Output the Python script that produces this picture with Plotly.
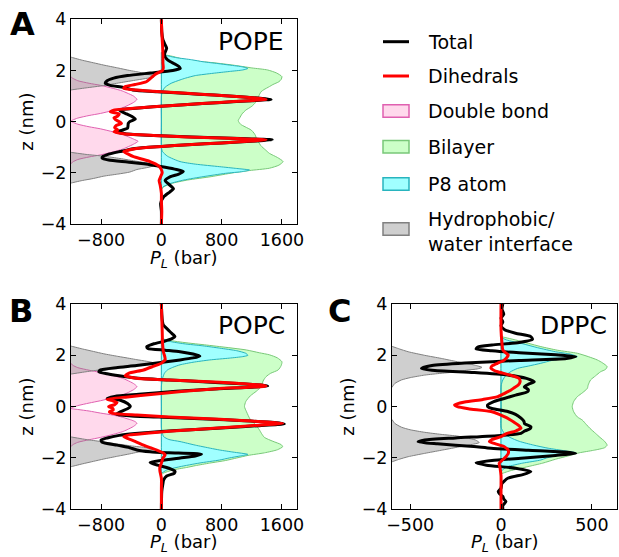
import plotly.graph_objects as go

W, H = 619, 557

# ---------------- Panel A (POPE) ----------------
A_tot_z = [4.0, 3.5, 3.2, 3.0, 2.87, 2.75, 2.61, 2.45, 2.35, 2.25, 2.16, 2.08, 2.0, 1.9, 1.8, 1.7, 1.6, 1.5,
           1.42, 1.34, 1.24, 1.17, 1.11, 1.04, 0.98, 0.92, 0.87, 0.82, 0.75, 0.66, 0.58, 0.5, 0.46, 0.38,
           0.3, 0.2, 0.1, 0.0, -0.07, -0.15, -0.26, -0.33, -0.4, -0.47, -0.54, -0.6, -0.66, -0.71, -0.76,
           -0.83, -0.9, -0.97, -1.05, -1.17, -1.27, -1.37, -1.43, -1.5, -1.58, -1.68, -1.78, -1.87, -1.95,
           -2.05, -2.15, -2.3, -2.45, -2.62, -2.75, -2.94, -3.2, -3.5, -4.0]
A_tot_p = [0, 5, 20, 50, 70, 55, 40, 70, 115, 180, 230, 250, 150, -150, -450, -633, -720, -745,
           -680, -505, -380, -50, 300, 700, 1000, 1280, 1456, 1200, 800, 300, -110, -420, -560, -520,
           -460, -390, -347, -420, -440, -443, -450, -520, -600, -480, -100, 400, 1050, 1470, 1250,
           800, 350, 0, -350, -550, -700, -780, -786, -700, -450, -150, 50, 200, 290,
           230, 120, 50, 100, 160, 110, 30, -10, 0, 0]

A_dih_z = [4.0, 3.5, 3.0, 2.6, 2.3, 2.1, 2.0, 1.93, 1.85, 1.7, 1.56, 1.45, 1.37, 1.3, 1.24, 1.17, 1.11,
           1.04, 0.98, 0.92, 0.87, 0.82, 0.75, 0.66, 0.58, 0.5, 0.45, 0.38, 0.3, 0.22, 0.15, 0.08, 0.0,
           -0.07, -0.15, -0.24, -0.32, -0.4, -0.47, -0.54, -0.6, -0.66, -0.71, -0.76, -0.83, -0.9,
           -0.97, -1.05, -1.17, -1.27, -1.37, -1.47, -1.56, -1.65, -1.75, -1.88, -2.0, -2.15, -2.3,
           -2.5, -2.8, -3.1, -3.5, -4.0]
A_dih_p = [0, 5, 15, 20, 20, 25, 15, -30, -80, -140, -200, -350, -480, -500, -330, 0, 335,
           700, 995, 1250, 1390, 1150, 774, 300, -110, -450, -633, -677, -560, -580, -630, -610, -560,
           -530, -600, -620, -580, -630, -500, -100, 350, 1000, 1390, 1200, 800, 350,
           0, -330, -500, -440, -370, -250, -150, -80, -30, 0, 10, -10, -30,
           -15, 0, 0, 5, 0]

A_pink_z = [1.75, 1.7, 1.6, 1.5, 1.42, 1.3, 1.2, 1.12, 1.0, 0.87, 0.75, 0.62, 0.54, 0.44, 0.32, 0.24,
            0.14, 0.06, 0.02, -0.02, -0.1, -0.2, -0.28, -0.4, -0.5, -0.57, -0.68, -0.77, -0.88, -1.0,
            -1.08, -1.18, -1.3, -1.38, -1.48, -1.58, -1.65]
A_pink_p = [-1200, -1180, -1110, -960, -810, -640, -520, -456, -370, -325, -370, -456, -520, -640, -810, -960,
            -1110, -1180, -1200, -1180, -1110, -960, -810, -640, -520, -456, -370, -310, -370, -456,
            -520, -640, -810, -960, -1110, -1180, -1200]

A_grey_up_z = [2.52, 2.4, 2.3, 2.21, 2.1, 2.0, 1.95, 1.87, 1.79, 1.75, 1.7, 1.63, 1.52, 1.41, 1.32, 1.24]
A_grey_up_p = [-1200, -1050, -900, -765, -580, -420, -325, -200, -110, -100, -180, -325, -550, -765, -1000, -1200]
A_grey_lo_z = [-1.2, -1.28, -1.35, -1.44, -1.55, -1.62, -1.68, -1.73, -1.8, -1.87, -1.97, -2.05, -2.13, -2.22, -2.3, -2.4]
A_grey_lo_p = [-1200, -1000, -765, -550, -325, -180, -100, -110, -200, -325, -420, -580, -765, -900, -1050, -1200]

A_green_z = [2.7, 2.64, 2.55, 2.41, 2.3, 2.21, 2.1, 2.02, 1.9, 1.76, 1.65, 1.56, 1.45, 1.37, 1.25, 1.17,
             1.05, 0.9, 0.75, 0.6, 0.45, 0.3, 0.15, 0.04, -0.1, -0.2, -0.33, -0.45, -0.55, -0.65, -0.8,
             -0.94, -1.1, -1.24, -1.4, -1.56, -1.7, -1.82, -1.91, -2.0, -2.15, -2.28, -2.42, -2.55, -2.65]
A_green_p = [0, 20, 150, 335, 700, 950, 1200, 1410, 1530, 1600, 1590, 1560, 1480, 1434, 1360, 1324,
             1300, 1280, 1250, 1200, 1120, 1070, 1040, 1020, 1050, 1110, 1193, 1230, 1250, 1260, 1290,
             1320, 1380, 1434, 1540, 1615, 1560, 1434, 1170, 950, 660, 350, 130, 30, 0]

A_p8_z = [2.7, 2.6, 2.5, 2.42, 2.34, 2.27, 2.21, 2.14, 2.08, 2.02, 1.96, 1.89, 1.8, 1.7, 1.63, 1.5,
          1.35, 1.2, 1.0, 0.0, -1.0, -1.17, -1.35, -1.56, -1.66, -1.76, -1.83, -1.89, -1.95, -2.02,
          -2.15, -2.28, -2.42, -2.55, -2.65]
A_p8_p = [0, 50, 200, 400, 554, 750, 906, 1080, 1148, 1080, 900, 686, 450, 320, 247, 130,
          50, 15, 0, 0, 0, 15, 80, 247, 450, 774, 1000, 1170, 1080, 850,
          554, 300, 115, 20, 0]

# ---------------- Panel B (POPC) ----------------
B_tot_z = [4.0, 3.6, 3.3, 3.18, 3.05, 2.92, 2.8, 2.73, 2.65, 2.55, 2.45, 2.34, 2.27, 2.2, 2.14, 2.05, 1.97,
           1.9, 1.82, 1.7, 1.6, 1.52, 1.43, 1.36, 1.28, 1.2, 1.12, 1.04, 0.97, 0.9, 0.84, 0.8, 0.76, 0.7,
           0.6, 0.48, 0.4, 0.32, 0.25, 0.12, 0.0, -0.08, -0.2, -0.3, -0.36, -0.42, -0.48, -0.55, -0.62,
           -0.67, -0.74, -0.82, -0.9, -0.97, -1.05, -1.12, -1.22, -1.3, -1.38, -1.5, -1.6, -1.69, -1.76,
           -1.8, -1.85, -1.92, -2.0, -2.1, -2.18, -2.28, -2.4, -2.52, -2.6, -2.7, -2.85, -3.0, -3.3, -4.0]
B_tot_p = [0, 5, 15, 26, 70, 115, 160, 180, 140, 40, -100, -193, -180, 50, 247, 420, 510,
           420, 247, -60, -330, -600, -808, -830, -720, -560, -350, 100, 550, 1000, 1320, 1411, 1200, 760,
           200, -300, -620, -720, -545, -450, -413, -450, -545, -600, -400, 100, 600, 1100, 1500,
           1632, 1300, 850, 400, 0, -350, -560, -720, -800, -790, -589, -420, -325, -150,
           100, 532, 450, 250, 0, -150, -50, 100, 180, 170, 70, 30, 20, 5, 0]

B_dih_z = [4.0, 3.0, 2.5, 2.14, 1.95, 1.82, 1.75, 1.69, 1.58, 1.43, 1.3, 1.2, 1.11, 1.04, 0.98, 0.91, 0.85,
           0.8, 0.75, 0.7, 0.6, 0.48, 0.38, 0.29, 0.22, 0.16, 0.08, 0.0, -0.06, -0.13, -0.2, -0.26, -0.33,
           -0.4, -0.46, -0.53, -0.6, -0.65, -0.72, -0.8, -0.88, -0.96, -1.04, -1.1, -1.17, -1.25, -1.35,
           -1.5, -1.6, -1.69, -1.8, -1.88, -2.0, -2.2, -2.35, -2.5, -2.8, -3.2, -4.0]
B_dih_p = [0, 10, 15, 26, 45, 50, 20, 0, -100, -237, -435, -480, -330, 100, 554, 1000, 1300,
           1390, 1100, 738, 300, -105, -450, -720, -640, -589, -620, -700, -650, -640, -690, -650, -325,
           100, 554, 1000, 1400, 1610, 1300, 900, 500, 100, -200, -420, -500, -440, -350,
           -237, -150, -60, 20, 50, 20, 0, -20, -20, 0, 0, 0]

B_pink_z = [1.69, 1.62, 1.52, 1.42, 1.33, 1.21, 1.11, 1.03, 0.9, 0.78, 0.66, 0.53, 0.45, 0.35, 0.23, 0.14,
            0.04, -0.03, -0.07, -0.11, -0.17, -0.25, -0.33, -0.41, -0.47, -0.52, -0.58, -0.65, -0.77, -0.9,
            -0.98, -1.08, -1.2, -1.29, -1.39, -1.49, -1.56]
B_pink_p = [-1200, -1180, -1110, -960, -810, -640, -520, -456, -370, -325, -370, -456, -520, -640, -810, -960,
            -1110, -1180, -1200, -1110, -960, -810, -640, -520, -456, -400, -350, -325, -370, -456,
            -520, -640, -810, -960, -1110, -1180, -1200]

B_grey_up_z = [2.36, 2.25, 2.15, 2.06, 1.96, 1.88, 1.83, 1.77, 1.72, 1.67, 1.61, 1.52, 1.44, 1.36, 1.27]
B_grey_up_p = [-1200, -1050, -900, -765, -580, -420, -325, -200, -120, -200, -400, -620, -800, -1000, -1200]
B_grey_lo_z = [-1.18, -1.28, -1.36, -1.44, -1.53, -1.6, -1.66, -1.72, -1.78, -1.84, -1.93, -2.04, -2.13, -2.23, -2.34]
B_grey_lo_p = [-1200, -1000, -800, -620, -400, -200, -120, -200, -325, -420, -580, -765, -900, -1050, -1200]

B_green_z = [2.66, 2.6, 2.5, 2.4, 2.34, 2.21, 2.1, 2.02, 1.9, 1.75, 1.6, 1.43, 1.3, 1.17, 1.0, 0.8, 0.6,
             0.42, 0.2, 0.0, -0.2, -0.5, -0.7, -0.9, -1.05, -1.2, -1.35, -1.48, -1.56, -1.68, -1.8, -1.9,
             -2.0, -2.1, -2.2, -2.3, -2.37, -2.47, -2.6, -2.66]
B_green_p = [0, 70, 300, 600, 774, 1126, 1300, 1434, 1540, 1600, 1590, 1550, 1450, 1390, 1350, 1330, 1260,
             1180, 1120, 1103, 1130, 1180, 1250, 1300, 1330, 1368, 1480, 1590, 1610, 1540, 1368, 1150,
             1000, 850, 640, 450, 335, 150, 20, 0]

B_p8_z = [2.65, 2.54, 2.45, 2.37, 2.28, 2.18, 2.08, 2.0, 1.95, 1.89, 1.82, 1.73, 1.63, 1.53, 1.43, 1.3,
          1.1, 0.8, 0.0, -0.8, -1.0, -1.17, -1.28, -1.36, -1.5, -1.62, -1.69, -1.77, -1.86, -1.92, -2.0,
          -2.08, -2.2, -2.34, -2.47, -2.6]
B_p8_p = [0, 115, 300, 550, 774, 1000, 1120, 1148, 1080, 900, 642, 420, 247, 150, 80, 40,
          15, 0, 0, 0, 10, 30, 100, 247, 450, 650, 774, 950, 1148, 1050, 900,
          774, 500, 247, 70, 0]

# ---------------- Panel C (DPPC) ----------------
C_tot_z = [4.0, 3.8, 3.6, 3.45, 3.3, 3.15, 3.0, 2.86, 2.73, 2.62, 2.5, 2.4, 2.32, 2.25, 2.18, 2.1, 2.02,
           1.95, 1.88, 1.8, 1.7, 1.6, 1.49, 1.42, 1.33, 1.23, 1.1, 0.97, 0.87, 0.77, 0.67, 0.58, 0.45,
           0.32, 0.2, 0.07, 0.0, -0.07, -0.19, -0.3, -0.45, -0.57, -0.67, -0.78, -0.86, -0.95, -1.04,
           -1.12, -1.22, -1.3, -1.37, -1.45, -1.55, -1.62, -1.7, -1.77, -1.82, -1.9, -2.0, -2.1, -2.19,
           -2.28, -2.4, -2.53, -2.65, -2.79, -3.0, -3.18, -3.3, -3.38, -3.5, -3.6, -3.7, -3.85, -4.0]
C_tot_p = [10, 5, 15, 0, 10, 0, 20, 80, 164, 173, 100, -50, -128, -137, -50, 100, 300,
           411, 360, 100, -200, -380, -438, -380, -150, 37, 140, 183, 150, 128, 150, 146, 80,
           18, -40, -73, -73, -50, 37, 80, 110, 126, 130, 164, 160, 130, 110,
           0, -250, -420, -456, -350, -150, -55, 150, 350, 411, 300, 128, -50, -137,
           -80, 80, 164, 120, 37, 5, 0, -15, -10, 10, 15, 27, 10, 10]

C_dih_z = [4.0, 3.0, 2.5, 2.21, 2.1, 2.01, 1.9, 1.78, 1.69, 1.58, 1.49, 1.42, 1.36, 1.25, 1.1, 0.97, 0.84,
           0.75, 0.65, 0.52, 0.39, 0.28, 0.18, 0.07, 0.0, -0.08, -0.19, -0.3, -0.43, -0.6, -0.72, -0.84,
           -0.95, -1.05, -1.17, -1.28, -1.36, -1.45, -1.56, -1.7, -1.82, -1.95, -2.1, -2.21, -2.4, -2.7,
           -3.2, -4.0]
C_dih_p = [0, 0, 5, 10, 25, 40, 30, 10, -20, -50, -55, -40, -18, 40, 100, 105, 95,
           75, 55, 20, -18, -100, -200, -256, -240, -180, -55, -10, 30, 70, 95, 110,
           80, 30, 0, -50, -64, -30, 18, 40, 40, 27, 5, -10, -5, 0,
           0, 0]

C_grey_up_z = [2.35, 2.25, 2.14, 2.0, 1.88, 1.75, 1.62, 1.53, 1.47, 1.42, 1.36, 1.3, 1.23, 1.13, 1.04, 0.9, 0.75]
C_grey_up_p = [-600, -560, -511, -420, -329, -240, -146, -105, -130, -190, -237, -330, -420, -500, -548, -585, -600]
C_grey_lo_z = [-0.5, -0.65, -0.8, -0.9, -1.0, -1.08, -1.15, -1.22, -1.3, -1.4, -1.46, -1.58, -1.7, -1.82, -1.95, -2.05, -2.15]
C_grey_lo_p = [-600, -585, -548, -500, -420, -330, -237, -190, -140, -120, -150, -240, -329, -420, -511, -560, -600]

C_green_z = [2.73, 2.6, 2.47, 2.34, 2.2, 2.08, 1.95, 1.82, 1.7, 1.56, 1.45, 1.36, 1.2, 1.04, 0.85, 0.71,
             0.55, 0.39, 0.2, 0.0, -0.2, -0.4, -0.52, -0.7, -0.85, -1.04, -1.2, -1.35, -1.5, -1.6, -1.7,
             -1.8, -1.9, -2.05, -2.2, -2.35, -2.5, -2.62]
C_green_p = [0, 80, 150, 219, 310, 420, 480, 530, 560, 584, 575, 548, 520, 493, 480, 475,
             450, 420, 400, 392, 400, 420, 447, 470, 490, 520, 545, 570, 584, 570, 510,
             430, 380, 300, 230, 140, 50, 0]

C_p8_z = [2.7, 2.6, 2.45, 2.3, 2.14, 2.05, 1.95, 1.88, 1.8, 1.69, 1.58, 1.49, 1.35, 1.2, 1.04, 0.8, 0.0,
          -0.8, -1.04, -1.2, -1.35, -1.5, -1.62, -1.72, -1.8, -1.88, -2.0, -2.08, -2.2, -2.34, -2.45, -2.55]
C_p8_p = [0, 30, 120, 200, 300, 380, 420, 350, 280, 219, 150, 91, 50, 25, 10, 0, 0,
          0, 18, 50, 100, 180, 260, 350, 411, 330, 250, 219, 120, 37, 10, 0]

X_RANGE_AB = [-1200, 1800]
X_RANGE_C = [-600, 640]
X_TICKS_AB = [-800, 0, 800, 1600]
X_TICKS_C = [-500, 0, 500]
Y_TICKS = [-4, -2, 0, 2, 4]

LEGEND_LABELS = ["Total", "Dihedrals", "Double bond", "Bilayer", "P8 atom", "Hydrophobic/<br>water interface"]
X_TITLE = "<i>P</i><sub><i>L</i></sub> (bar)"
Y_TITLE = "z (nm)"

# ---------------- styles ----------------
BLACK = "black"
RED = "rgb(255,0,0)"
PINK_F, PINK_L = "rgba(255,105,180,0.25)", "rgb(224,96,176)"
GREEN_F, GREEN_L = "rgb(204,255,200)", "rgb(120,200,120)"
CYAN_F, CYAN_L = "rgb(160,255,255)", "rgb(40,180,190)"
GREY_F, GREY_L = "rgba(128,128,128,0.38)", "rgb(128,128,128)"


def right_poly(z, p, base=0):
    return [base] + list(p) + [base, base], [z[0]] + list(z) + [z[-1], z[0]]


def left_polys(parts, base):
    xs, ys = [], []
    for z, p in parts:
        if xs:
            xs.append(None)
            ys.append(None)
        xs += [base] + list(p) + [base]
        ys += [z[0]] + list(z) + [z[-1]]
    return xs, ys


fig = go.Figure()
panels = [
    ("x", "y", X_RANGE_AB[0], A_tot_z, A_tot_p, A_dih_z, A_dih_p, (A_pink_z, A_pink_p),
     [(A_grey_up_z, A_grey_up_p), (A_grey_lo_z, A_grey_lo_p)], (A_green_z, A_green_p), (A_p8_z, A_p8_p)),
    ("x2", "y2", X_RANGE_AB[0], B_tot_z, B_tot_p, B_dih_z, B_dih_p, (B_pink_z, B_pink_p),
     [(B_grey_up_z, B_grey_up_p), (B_grey_lo_z, B_grey_lo_p)], (B_green_z, B_green_p), (B_p8_z, B_p8_p)),
    ("x3", "y3", X_RANGE_C[0], C_tot_z, C_tot_p, C_dih_z, C_dih_p, None,
     [(C_grey_up_z, C_grey_up_p), (C_grey_lo_z, C_grey_lo_p)], (C_green_z, C_green_p), (C_p8_z, C_p8_p)),
]

SM = 0.6
for i, (xa, ya, base, tz, tp, dz, dp, pink, greys, green, p8) in enumerate(panels):
    if pink is not None:
        xs, ys = left_polys([pink], base)
        fig.add_trace(go.Scatter(x=xs, y=ys, xaxis=xa, yaxis=ya, mode="lines", fill="toself",
                                 fillcolor=PINK_F, line=dict(color=PINK_L, width=1, shape="spline", smoothing=SM),
                                 name="Double bond", showlegend=False, hoverinfo="skip"))
    xs, ys = left_polys(greys, base)
    fig.add_trace(go.Scatter(x=xs, y=ys, xaxis=xa, yaxis=ya, mode="lines", fill="toself",
                             fillcolor=GREY_F, line=dict(color=GREY_L, width=1, shape="spline", smoothing=SM),
                             name="Hydrophobic/water interface", showlegend=False, hoverinfo="skip"))
    xs, ys = right_poly(*green)
    fig.add_trace(go.Scatter(x=xs, y=ys, xaxis=xa, yaxis=ya, mode="lines", fill="toself",
                             fillcolor=GREEN_F, line=dict(color=GREEN_L, width=1, shape="spline", smoothing=SM),
                             name="Bilayer", showlegend=False, hoverinfo="skip"))
    xs, ys = right_poly(*p8)
    fig.add_trace(go.Scatter(x=xs, y=ys, xaxis=xa, yaxis=ya, mode="lines", fill="toself",
                             fillcolor=CYAN_F, line=dict(color=CYAN_L, width=1, shape="spline", smoothing=SM),
                             name="P8 atom", showlegend=False, hoverinfo="skip"))
    fig.add_trace(go.Scatter(x=tp, y=tz, xaxis=xa, yaxis=ya, mode="lines",
                             line=dict(color=BLACK, width=3, shape="spline", smoothing=SM),
                             name="Total", showlegend=False))
    fig.add_trace(go.Scatter(x=dp, y=dz, xaxis=xa, yaxis=ya, mode="lines",
                             line=dict(color=RED, width=3, shape="spline", smoothing=SM),
                             name="Dihedrals", showlegend=False))


def px_x(p):
    return p / W


def px_y(p):
    return 1 - p / H


FONT = "DejaVu Sans"
axis_common = dict(showgrid=False, zeroline=False, showline=True, linecolor="black", linewidth=1,
                   mirror="ticks", ticks="inside", ticklen=5, tickcolor="black", tickwidth=1,
                   automargin=False, tickfont=dict(family=FONT, size=17.5, color="black"))

PANEL_BOXES = {  # pixel boxes: (left, right, top, bottom)
    "A": (71, 297, 19.3, 224),
    "B": (71, 297, 304, 509.3),
    "C": (392, 617.3, 304, 509.3),
}
A_, B_, C_ = PANEL_BOXES["A"], PANEL_BOXES["B"], PANEL_BOXES["C"]

layout = dict(
    width=W, height=H, margin=dict(l=0, r=0, t=0, b=0, autoexpand=False),
    paper_bgcolor="white", plot_bgcolor="white",
    font=dict(family=FONT, color="black"),
    xaxis=dict(domain=[px_x(A_[0]), px_x(A_[1])], range=X_RANGE_AB, tickvals=X_TICKS_AB, anchor="y", **axis_common),
    yaxis=dict(domain=[px_y(A_[3]), px_y(A_[2])], range=[-4, 4], tickvals=Y_TICKS, anchor="x", **axis_common),
    xaxis2=dict(domain=[px_x(B_[0]), px_x(B_[1])], range=X_RANGE_AB, tickvals=X_TICKS_AB, anchor="y2", **axis_common),
    yaxis2=dict(domain=[px_y(B_[3]), px_y(B_[2])], range=[-4, 4], tickvals=Y_TICKS, anchor="x2", **axis_common),
    xaxis3=dict(domain=[px_x(C_[0]), px_x(C_[1])], range=X_RANGE_C, tickvals=X_TICKS_C, anchor="y3", **axis_common),
    yaxis3=dict(domain=[px_y(C_[3]), px_y(C_[2])], range=[-4, 4], tickvals=Y_TICKS, anchor="x3", **axis_common),
    showlegend=False,
)
fig.update_layout(**layout)

# ---- axis titles as annotations ----
title_pos = [  # (x-title centre x, x-title y, y-title x, y-title centre y)
    ((A_[0] + A_[1]) / 2, 259, 27, (A_[2] + A_[3]) / 2),
    ((B_[0] + B_[1]) / 2, 543, 27, (B_[2] + B_[3]) / 2),
    ((C_[0] + C_[1]) / 2, 543, 348, (C_[2] + C_[3]) / 2),
]
for xc, xy, yx, yc in title_pos:
    fig.add_annotation(text=X_TITLE, x=px_x(xc), y=px_y(xy), xref="paper", yref="paper", showarrow=False,
                       xanchor="center", yanchor="middle", font=dict(family=FONT, size=18, color="black"))
    fig.add_annotation(text=Y_TITLE, x=px_x(yx), y=px_y(yc), xref="paper", yref="paper", showarrow=False,
                       textangle=-90, xanchor="center", yanchor="middle",
                       font=dict(family=FONT, size=18, color="black"))

# ---- manual legend (paper coordinates) ----
leg_rows = [41.7, 76, 111, 146.7, 184, 229]
leg_text_y = [41.7, 76, 111, 146.7, 184, 232]
x0, x1, xtxt = 383, 409, 426
shapes = []
for yc, col in zip(leg_rows[:2], [BLACK, RED]):
    shapes.append(dict(type="line", xref="paper", yref="paper", x0=px_x(x0), x1=px_x(x1),
                       y0=px_y(yc), y1=px_y(yc), line=dict(color=col, width=3)))
box_styles = [(PINK_F, PINK_L), (GREEN_F, GREEN_L), (CYAN_F, CYAN_L), (GREY_F, GREY_L)]
for yc, (fc, lc) in zip(leg_rows[2:], box_styles):
    shapes.append(dict(type="rect", xref="paper", yref="paper", x0=px_x(x0), x1=px_x(x1),
                       y0=px_y(yc - 6.3), y1=px_y(yc + 6.3), fillcolor=fc, line=dict(color=lc, width=1.5)))
fig.update_layout(shapes=shapes)
for lab, yc in zip(LEGEND_LABELS, leg_text_y):
    fig.add_annotation(text=lab, x=px_x(xtxt), y=px_y(yc), xref="paper", yref="paper", showarrow=False,
                       xanchor="left", yanchor="middle", align="left",
                       font=dict(family=FONT, size=19, color="black"))

letters = [("A", 22, 24), ("B", 21, 311), ("C", 339, 311)]
for t, x, y in letters:
    fig.add_annotation(text="<b>%s</b>" % t, x=px_x(x), y=px_y(y), xref="paper", yref="paper",
                       showarrow=False, xanchor="center", yanchor="middle",
                       font=dict(family=FONT, size=32, color="black"))
names = [("POPE", 286, 41), ("POPC", 287, 325), ("DPPC", 609, 325)]
for t, x, y in names:
    fig.add_annotation(text=t, x=px_x(x), y=px_y(y), xref="paper", yref="paper",
                       showarrow=False, xanchor="right", yanchor="middle",
                       font=dict(family=FONT, size=25, color="black"))

fig.write_html("out.html")
